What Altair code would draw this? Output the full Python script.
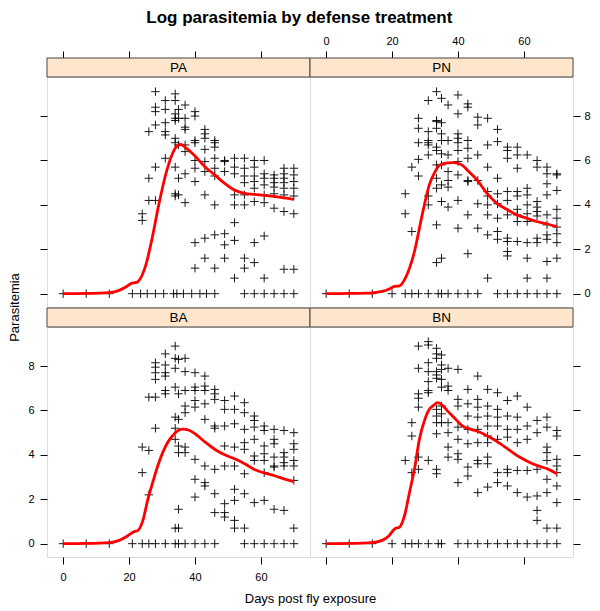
import altair as alt
import pandas as pd

# ---------------- data (day, [log parasitemia values]) ----------------
PA_points = [
    (24, [3.6, 3.3]),
    (26, [7.3, 5.2, 4.2]),
    (28, [9.1, 8.4, 8.2, 7.6, 5.7, 4.2]),
    (31, [8.7, 8.3, 7.7, 7.3, 7.15, 6.1]),
    (34, [9.0, 8.7, 8.1, 7.9, 7.8, 7.0, 6.8, 5.7, 4.5, 4.4]),
    (35, [8.3, 7.9, 6.7, 5.2, 4.45]),
    (37, [8.5, 7.9, 7.5, 7.4, 6.7, 6.4, 5.4, 4.1]),
    (40, [8.2, 8.0, 6.9, 6.8, 6.0, 5.65, 5.05, 2.3, 1.15]),
    (43, [7.4, 7.2, 7.0, 6.5, 5.95, 5.5, 4.45, 2.5, 1.6]),
    (46, [6.9, 6.8, 6.6, 6.1, 5.65, 5.3, 4.0, 2.65, 1.15]),
    (49, [6.0, 5.95, 5.5, 2.7, 2.2, 1.6]),
    (52, [6.1, 5.7, 5.4, 4.45, 4.0, 3.2, 2.4, 0.7]),
    (55, [6.1, 5.65, 5.3, 5.0, 4.45, 4.0, 1.6, 1.15]),
    (58, [6.0, 5.7, 5.3, 5.05, 4.75, 4.15, 2.3, 1.4]),
    (61, [6.0, 5.4, 5.2, 4.9, 4.45, 4.1, 2.6, 0.7]),
    (64, [5.35, 5.2, 5.0, 4.8, 4.5, 3.85]),
    (67, [5.65, 5.4, 5.2, 5.0, 4.75, 4.45, 3.7, 1.1]),
    (70, [5.65, 5.35, 5.05, 4.75, 4.4, 3.6, 1.1]),
]
PA_zero_days = [0, 7, 14, 21, 23.5, 25.5, 28, 30.5, 33.5, 34.5, 36.5, 39, 41.5, 43.5, 46,
                55, 58, 61, 64, 67, 70]
PA_curve_days = [0, 7, 14, 17, 19, 20.5, 22.5, 23.5, 25, 27, 29, 31, 33, 34.5, 35.7, 37, 40,
                 43, 46, 49, 52, 55, 58, 61, 64, 67, 70]
PA_curve_vals = [0, 0.01, 0.05, 0.15, 0.3, 0.45, 0.52, 0.7, 1.25, 2.5, 4.0, 5.3, 6.25, 6.65,
                 6.72, 6.6, 6.2, 5.72, 5.35, 4.97, 4.67, 4.52, 4.47, 4.43, 4.38, 4.32, 4.25]

PN_points = [
    (24, [4.5, 3.6]),
    (26, [5.7, 2.8]),
    (28, [7.9, 7.45, 6.8, 6.05, 5.3]),
    (31, [8.7, 7.3, 6.9, 6.8, 6.7, 6.25, 4.4, 4.0]),
    (33.5, [9.1, 7.8, 7.75, 7.45, 6.6, 6.45, 5.8, 5.2, 4.75, 3.1, 1.4]),
    (35, [8.8, 7.7, 7.2, 6.9, 6.3, 5.8, 4.9, 4.15, 1.6]),
    (37, [8.5, 6.9, 6.25, 5.5, 5.1, 4.8, 3.9]),
    (40, [8.95, 8.1, 7.2, 7.0, 6.8, 6.45, 5.95, 5.35, 4.2, 2.95]),
    (43, [8.55, 8.4, 6.9, 6.55, 6.1, 5.1, 5.05, 3.55, 1.8]),
    (46, [7.95, 7.6, 6.25, 5.1, 4.05, 2.95]),
    (49, [7.9, 6.7, 5.7, 4.6, 4.4, 4.0, 3.55, 2.65, 0.7]),
    (52, [7.4, 6.85, 5.2, 4.5, 4.05, 3.4, 2.8, 2.45]),
    (55, [6.6, 6.45, 6.1, 4.6, 4.2, 3.55, 2.5, 2.35, 1.9, 1.7]),
    (58, [6.6, 6.25, 5.65, 4.6, 4.4, 3.8, 3.55, 3.25, 2.35]),
    (61, [6.25, 4.75, 4.45, 4.0, 3.6, 3.25, 2.3, 1.6, 0.7]),
    (64, [6.0, 5.7, 4.15, 3.9, 3.7, 3.5, 2.5, 2.3]),
    (67, [5.7, 5.4, 4.95, 4.45, 3.55, 3.1, 2.65, 2.45, 1.45, 0.7]),
    (70, [5.4, 5.35, 4.65, 3.8, 3.4, 3.0, 2.7, 2.3, 1.6]),
]
PN_zero_days = [0, 7, 14, 20, 24, 26, 28, 31, 34, 35, 37, 40, 43, 46, 52, 55, 58, 61, 64, 67, 70]
PN_curve_days = [0, 7, 14, 17, 19, 20.8, 22.3, 23.8, 25.3, 26.8, 28.3, 29.8, 31.3, 32.8, 34.3,
                 35.8, 38.3, 40.8, 43.3, 45.8, 48.8, 51.8, 54.8, 57.8, 60.8, 63.8, 66.8, 70]
PN_curve_vals = [0, 0.01, 0.04, 0.1, 0.2, 0.33, 0.35, 0.63, 1.15, 1.9, 2.95, 4.0, 4.9, 5.42,
                 5.77, 5.87, 5.9, 5.83, 5.5, 5.12, 4.52, 4.07, 3.8, 3.55, 3.4, 3.25, 3.15, 3.02]

BA_points = [
    (24, [4.35, 3.2]),
    (26, [6.6, 4.2, 2.2]),
    (28, [8.15, 7.95, 7.7, 7.4, 6.6, 5.2]),
    (31, [8.55, 8.05, 7.7, 7.55, 6.9, 6.75]),
    (34, [8.9, 8.35, 7.9, 7.05, 5.7, 5.2, 4.7, 0.7]),
    (35, [8.3, 6.75, 5.6, 4.4, 4.1, 1.55, 0.7]),
    (37, [8.35, 7.75, 6.9, 6.2, 5.9, 4.35, 4.1]),
    (40, [7.7, 7.05, 6.9, 6.45, 6.15, 3.8, 2.9, 2.1]),
    (43, [7.55, 7.1, 6.9, 6.3, 5.6, 3.5, 2.75, 2.6]),
    (46, [6.95, 6.75, 6.5, 5.3, 5.2, 3.35, 2.25, 1.4]),
    (49, [6.45, 6.05, 5.3, 4.4, 3.5, 1.8, 1.4, 1.2]),
    (52, [6.65, 6.05, 5.4, 4.35, 3.5, 2.45, 1.95, 1.05, 0.7]),
    (55, [6.35, 5.9, 5.15, 4.55, 4.25, 3.15, 2.25, 0.7]),
    (58, [5.75, 5.55, 5.25, 4.7, 3.95, 3.75, 1.85]),
    (61, [5.3, 5.1, 4.4, 4.05, 3.75, 3.2, 1.95]),
    (64, [5.15, 4.7, 4.5, 3.9, 3.5, 3.45, 1.55]),
    (67, [5.1, 4.1, 3.9, 3.65, 3.5, 1.5]),
    (70, [5.0, 4.5, 4.25, 3.75, 3.5, 2.85, 0.7]),
]
BA_zero_days = [0, 7, 14, 21, 24, 26, 28, 31, 34, 35, 37, 40, 43, 46, 55, 58, 61, 64, 67, 70]
BA_curve_days = [0, 7, 14, 17, 19, 21.2, 22.7, 24.2, 25.7, 27.2, 28.7, 30.2, 31.7, 33.2, 34.7,
                 36.2, 38.2, 40.2, 43.2, 46.2, 49.2, 52.2, 55.2, 58.2, 61.2, 64.2, 67.2, 70]
BA_curve_vals = [0, 0.01, 0.05, 0.15, 0.3, 0.52, 0.6, 1.05, 2.0, 2.77, 3.5, 4.1, 4.56, 4.86,
                 5.08, 5.16, 5.11, 4.93, 4.56, 4.23, 3.99, 3.81, 3.59, 3.33, 3.18, 3.06, 2.91, 2.8]

BN_points = [
    (24, [3.75]),
    (26, [5.45, 4.85, 3.2]),
    (28, [8.9, 7.9, 6.75, 6.55, 6.15, 3.9, 3.35]),
    (31, [9.1, 8.95, 8.15, 7.75, 7.3, 6.9, 6.8, 3.75]),
    (33.5, [8.8, 8.55, 8.35, 7.75, 7.6, 7.45, 6.05, 5.75, 5.45, 4.95, 3.35, 3.15]),
    (35, [8.5, 8.05, 7.85, 7.4, 7.05, 6.2, 5.85, 5.45]),
    (37, [7.9, 7.1, 6.9, 5.45, 5.0, 4.35, 3.9]),
    (40, [7.85, 6.5, 6.2, 5.25, 4.7, 4.05, 3.8, 2.75]),
    (43, [6.95, 6.3, 5.75, 5.15, 4.5, 3.45, 3.05]),
    (46, [7.55, 6.5, 6.15, 5.7, 5.15, 4.55, 3.75, 3.6, 2.3]),
    (49, [6.95, 6.2, 5.75, 5.3, 4.85, 4.55, 3.9, 3.6, 2.55]),
    (52, [6.8, 6.05, 5.7, 5.3, 4.7, 3.2, 2.75]),
    (55, [6.45, 5.75, 5.15, 4.8, 3.35, 3.2, 2.6]),
    (58, [6.65, 5.7, 5.15, 4.55, 3.3, 2.3]),
    (61, [6.15, 5.3, 4.7, 3.3, 2.1]),
    (64, [5.55, 5.0, 3.35, 2.15, 1.5, 1.05]),
    (67, [5.7, 5.25, 4.35, 4.1, 3.75, 2.9, 2.3, 0.7]),
    (70, [5.1, 4.85, 3.8, 3.5, 3.2, 2.6, 1.85, 0.7]),
]
BN_zero_days = [0, 7, 14, 20, 24, 26, 28, 31, 34, 35, 40, 43, 46, 49, 52, 55, 58, 61, 64, 67, 70]
BN_curve_days = [0, 7, 14, 17, 19, 20.8, 22.3, 23.8, 25.3, 26.8, 28.3, 29.8, 31.3, 32.6, 33.8,
                 35.3, 36.8, 38.8, 41.3, 43.8, 46.8, 49.8, 52.8, 55.8, 58.8, 61.8, 64.8, 67.3, 70]
BN_curve_vals = [0, 0.01, 0.05, 0.15, 0.35, 0.67, 0.75, 1.27, 2.32, 3.36, 4.71, 5.53, 6.05,
                 6.23, 6.35, 6.23, 5.98, 5.68, 5.31, 5.16, 5.01, 4.78, 4.51, 4.19, 3.89, 3.66,
                 3.48, 3.36, 3.15]

x_ticks = [0, 20, 40, 60]
y_ticks = [0, 2, 4, 6, 8]

# ---------------- layout / style ----------------
W, H = 263, 230
STRIP = 19
XDOM = [-4.9, 74.9]
YDOM = [-0.6, 9.76]
FONT = "Liberation Sans"
PLUS = "M-1,0L1,0M0,-1L0,1"
TITLE_STYLE = dict(titleFont=FONT, titleFontSize=13, titleFontWeight="normal",
                   titleColor="black", titleBaseline="middle")


def points_frame(pts, zeros):
    rows = []
    for d, vals in pts:
        for v in vals:
            rows.append({"day": d, "val": v})
    for d in zeros:
        rows.append({"day": d, "val": 0.0})
    return pd.DataFrame(rows)


def make_axis(orient, labels, offset=0, pad=5, **extra):
    return alt.Axis(orient=orient, values=(x_ticks if orient in ("top", "bottom") else y_ticks),
                    labels=labels, grid=False, domain=False, ticks=True, tickSize=7,
                    tickColor="black", tickWidth=1, labelColor="black", labelFont=FONT,
                    labelFontSize=11, labelAngle=0, labelPadding=pad, offset=offset,
                    **extra)


def panel(name, pts, zeros, cdays, cvals, xaxis, yaxis):
    df = points_frame(pts, zeros)
    cdf = pd.DataFrame({"day": cdays, "val": cvals})
    x = alt.X("day:Q", scale=alt.Scale(domain=XDOM, nice=False, zero=False), axis=xaxis)
    y = alt.Y("val:Q", scale=alt.Scale(domain=YDOM, nice=False, zero=False), axis=yaxis)
    one = pd.DataFrame({"k": [0]})
    strip = alt.Chart(one).mark_rect(fill="#ffe5cc", stroke="#444", strokeWidth=1).encode(
        x=alt.value(0), x2=alt.value(W), y=alt.value(-STRIP), y2=alt.value(0))
    label = alt.Chart(one).mark_text(font=FONT, fontSize=13.5, color="black").encode(
        x=alt.value(W / 2), y=alt.value(-STRIP / 2 + 0.5), text=alt.value(name))
    pts_layer = alt.Chart(df).mark_point(shape=PLUS, size=72, stroke="black", strokeWidth=1,
                                         filled=False, opacity=0.9).encode(x=x, y=y)
    line = alt.Chart(cdf).mark_line(color="red", strokeWidth=2.8,
                                    interpolate="monotone").encode(x=x, y=y)
    return alt.layer(strip, pts_layer, line, label).properties(width=W, height=H)


pa = panel("PA", PA_points, PA_zero_days, PA_curve_days, PA_curve_vals,
           make_axis("top", False, offset=STRIP, title=None),
           make_axis("left", False, title=None))
pn = panel("PN", PN_points, PN_zero_days, PN_curve_days, PN_curve_vals,
           make_axis("top", True, offset=STRIP, pad=5, title=None),
           make_axis("right", True, pad=4, title=None))
ba = panel("BA", BA_points, BA_zero_days, BA_curve_days, BA_curve_vals,
           make_axis("bottom", True, pad=7, title="Days post fly exposure", titleX=W,
                     titleY=41, **TITLE_STYLE),
           make_axis("left", True, pad=6, title="Parasitemia", titleX=-32.5, titleY=-20,
                     **TITLE_STYLE))
bn = panel("BN", BN_points, BN_zero_days, BN_curve_days, BN_curve_vals,
           make_axis("bottom", False, title=None),
           make_axis("right", False, title=None))

chart = alt.concat(pa, pn, ba, bn, columns=2, spacing={"row": STRIP + 1, "column": 0},
                   bounds="flush").properties(
    title=alt.TitleParams("Log parasitemia by defense treatment", font=FONT, fontSize=17,
                          fontWeight="bold", anchor="middle", color="black", dx=0,
                          offset=8),
    padding={"left": 0, "top": 0, "right": 0, "bottom": 0},
).configure_view(stroke="black", strokeWidth=1).configure(background="white")

chart.save("out.html", embed_options={"renderer": "svg", "actions": False})
